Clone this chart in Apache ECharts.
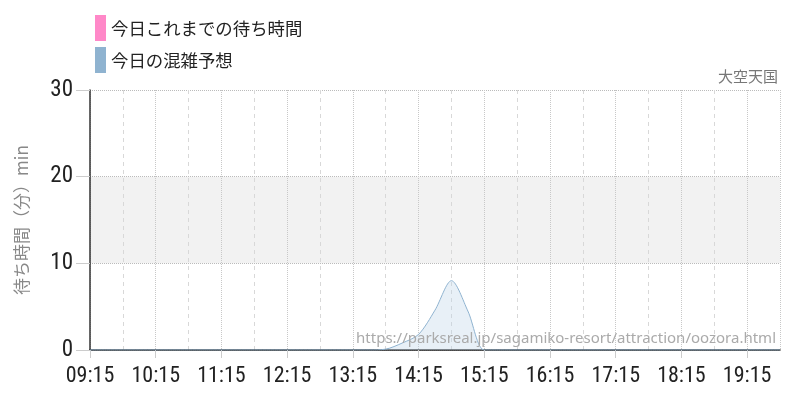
<!DOCTYPE html>
<html><head><meta charset="utf-8">
<script src="https://cdn.jsdelivr.net/npm/echarts@6/dist/echarts.min.js"></script>
<style>html,body{margin:0;padding:0;background:#fff}#c{width:800px;height:400px}</style>
</head><body><div id="c"></div>
<script>
var seriesNames = ['今日これまでの待ち時間', '今日の混雑予想'];
var times = ['09:15','09:30','09:45','10:00','10:15','10:30','10:45','11:00','11:15','11:30','11:45','12:00','12:15','12:30','12:45','13:00','13:15','13:30','13:45','14:00','14:15','14:30','14:45','15:00','15:15','15:30','15:45','16:00','16:15','16:30','16:45','17:00','17:15','17:30','17:45','18:00','18:15','18:30','18:45','19:00','19:15','19:30','19:45'];
var actualWait = [];
var forecast = [0,0,0,0,0,0,0,0,0,0,0,0,0,0,0,0,0,0,0.1,0.8,1.8,4.6,8.0,4.5,0,0,0,0,0,0,0,0,0,0,0,0,0,0,0,0,0,0,0];
var xStart = '09:15', xEnd = '19:45';
var yTicks = [0, 10, 20, 30];

function toMin(t){var p=t.split(':');return (+p[0])*60+(+p[1]);}
var base = toMin(xStart);
function fmt(v){var m=base+v;var h=Math.floor(m/60),mm=m%60;return (h<10?'0':'')+h+':'+(mm<10?'0':'')+mm;}
var forecastData = times.map(function(t,i){return [toMin(t)-base, forecast[i]];});
var actualData = actualWait.map(function(v,i){return [toMin(times[i])-base, v];});

var narrow = '"Liberation Sans Narrow","Roboto Condensed","DejaVu Sans Condensed",sans-serif';
var chart = echarts.init(document.getElementById('c'));
chart.setOption({
  animation:false,
  textStyle:{fontFamily:'"Noto Sans CJK JP","Noto Sans",sans-serif'},
  title:{text:'大空天国', right:22, top:69, padding:[0,0,0,0], textStyle:{fontSize:15, fontWeight:'normal', color:'#777', fontFamily:'"Noto Sans CJK JP",sans-serif'}},
  legend:{orient:'vertical', left:95, top:15, padding:0, itemWidth:11, itemHeight:26, itemGap:6, icon:'rect',
    textStyle:{fontSize:17.4, color:'#222', fontFamily:'"Noto Sans CJK JP",sans-serif'},
    data:seriesNames},
  grid:{left:90, right:20, top:90, bottom:50, containLabel:false},
  xAxis:{type:'value', min:0, max:toMin(xEnd)-base, interval:60,
    axisLine:{show:true, onZero:false, lineStyle:{color:'#222', width:1.5}},
    axisTick:{show:true, length:8, lineStyle:{color:'#ccc'}},
    axisLabel:{formatter:function(v){return fmt(v);}, fontSize:22, color:'#222', fontFamily:narrow, margin:15, showMaxLabel:false},
    splitLine:{show:true, lineStyle:{type:'dotted', color:'#c8c8c8'}},
    minorTick:{show:false, splitNumber:2},
    minorSplitLine:{show:true, lineStyle:{type:[4,4], color:'#d8d8d8'}}
  },
  yAxis:{type:'value', min:yTicks[0], max:yTicks[yTicks.length-1], interval:10,
    name:'待ち時間（分）min', nameLocation:'middle', nameRotate:90, nameGap:60,
    nameTextStyle:{fontSize:17, color:'#888', fontFamily:'"Noto Sans CJK JP",sans-serif'},
    axisLine:{show:true, lineStyle:{color:'#333', width:1.5}},
    axisTick:{show:true, length:14, lineStyle:{color:'#ccc'}},
    axisLabel:{fontSize:23, color:'#222', fontFamily:narrow, margin:17},
    splitLine:{show:true, lineStyle:{type:'dotted', color:'#bbb'}},
    splitArea:{show:true, areaStyle:{color:['rgba(0,0,0,0)','#f2f2f2']}}
  },
  graphic:[{type:'text', right:24, top:331, z:100, style:{text:'https://parksreal.jp/sagamiko-resort/attraction/oozora.html', fontSize:15, fill:'#aaa', fontFamily:'"Noto Sans","Open Sans",sans-serif'}}],
  series:[
    {name:seriesNames[0], type:'line', data:actualData, symbol:'none', itemStyle:{color:'#ff88c8'}, lineStyle:{color:'#ff88c8', width:1.5}},
    {name:seriesNames[1], type:'line', data:forecastData, symbol:'none', smooth:0.3, itemStyle:{color:'#8fb3d0'}, lineStyle:{color:'#8fb3d0', width:1}, areaStyle:{color:'rgba(190,212,232,0.5)'}}
  ]
});
</script></body></html>
